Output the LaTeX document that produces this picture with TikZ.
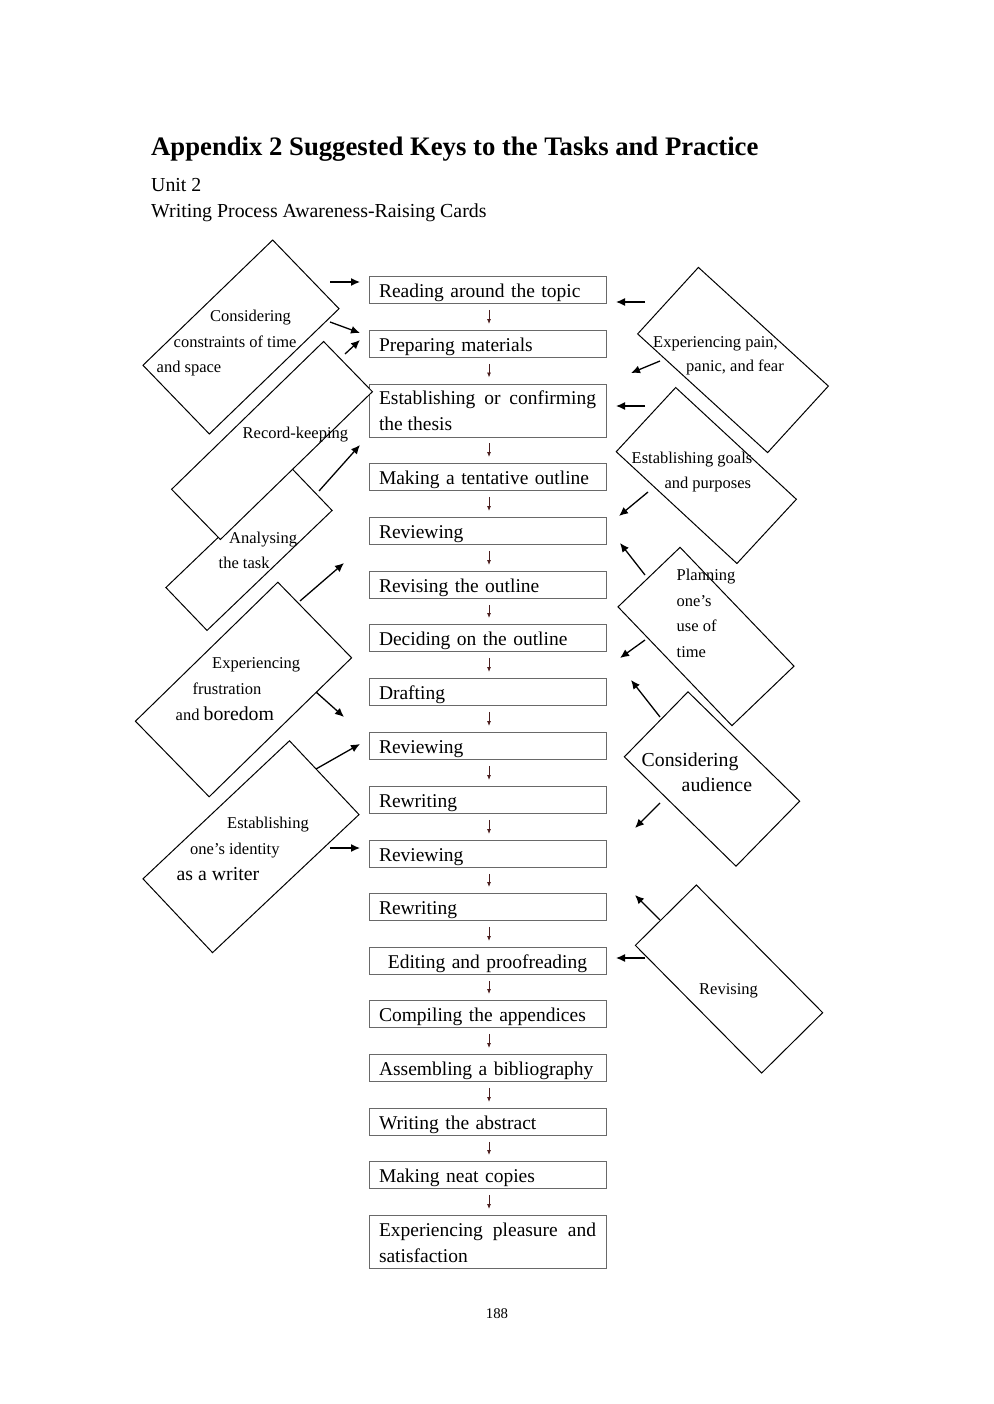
\documentclass[tikz,border=0pt]{standalone}
\usepackage{fontspec}
\setmainfont{Liberation Serif}
\usetikzlibrary{arrows.meta}
\definecolor{flowred}{RGB}{75,30,30}
\definecolor{boxgray}{RGB}{105,105,105}
\newcommand{\boxfont}{\fontsize{19.5}{26}\selectfont}
\newcommand{\cardfont}{\fontsize{16.5}{26}\selectfont}
\newcommand{\bigcard}{\fontsize{19.8}{26}\selectfont}

\begin{document}
\begin{tikzpicture}
  [x=1pt,y=-1pt,
   stage/.style={draw=boxgray,line width=0.9pt,anchor=north,text width=217pt,inner xsep=10pt,
     inner ysep=0pt,text height=20.7pt,text depth=6.3pt,align=left,font=\boxfont},
   card/.style={draw,line width=1pt,fill=white,inner sep=0pt},
   cardtext/.style={anchor=base west,inner sep=0pt,font=\cardfont},
   flow/.style={draw=flowred,line width=0.8pt,-{Latex[length=5pt,width=4pt]},shorten <=6pt,shorten >=6pt},
   hint/.style={line width=1.3pt,-{Latex[length=9pt,width=8pt]}}]
  \fill[white] (0,0) rectangle (993,1404);
  \useasboundingbox (0,0) rectangle (993,1404);

  % heading
  \node[anchor=base west,inner sep=0pt,font=\fontsize{26.7}{30}\selectfont\bfseries] (title) at (151,156)
    {Appendix 2 Suggested Keys to the Tasks and Practice};
  \node[anchor=base west,inner sep=0pt,font=\fontsize{19.85}{24}\selectfont] (unit) at (151,191.7) {Unit 2};
  \node[anchor=base west,inner sep=0pt,font=\fontsize{19.85}{24}\selectfont] (cards) at (151,217.3)
    {Writing Process Awareness-Raising Cards};

  % the process column
  \node[stage] (b1) at (487.5,276) {Reading around the topic};
  \node[stage] (b2) at (487.5,330) {Preparing materials};
  \node[stage,align=justify,text depth=32.3pt] (b3) at (487.5,383.5) {Establishing or confirming the thesis};
  \node[stage] (b4) at (487.5,463) {Making a tentative outline};
  \node[stage] (b5) at (487.5,517) {Reviewing};
  \node[stage] (b6) at (487.5,571) {Revising the outline};
  \node[stage] (b7) at (487.5,624) {Deciding on the outline};
  \node[stage] (b8) at (487.5,678) {Drafting};
  \node[stage] (b9) at (487.5,732) {Reviewing};
  \node[stage] (b10) at (487.5,786) {Rewriting};
  \node[stage] (b11) at (487.5,840) {Reviewing};
  \node[stage] (b12) at (487.5,893) {Rewriting};
  \node[stage,align=center] (b13) at (487.5,947) {Editing and proofreading};
  \node[stage] (b14) at (487.5,1000) {Compiling the appendices};
  \node[stage] (b15) at (487.5,1054) {Assembling a bibliography};
  \node[stage] (b16) at (487.5,1108) {Writing the abstract};
  \node[stage] (b17) at (487.5,1161) {Making neat copies};
  \node[stage,align=justify,text depth=32.3pt] (b18) at (487.5,1215) {Experiencing pleasure and satisfaction};

  \foreach \a/\b in {b1/b2,b2/b3,b3/b4,b4/b5,b5/b6,b6/b7,b7/b8,b8/b9,b9/b10,
                     b10/b11,b11/b12,b12/b13,b13/b14,b14/b15,b15/b16,b16/b17,b17/b18}
    \draw[flow] ([xshift=1.5pt]\a.south) -- ([xshift=1.5pt]\b.north);

  % cards, left
  \node[card,minimum width=180.3pt,minimum height=95.5pt,rotate=44] (d1) at (241,337) {};
  \node[card,minimum width=173.3pt,minimum height=59.4pt,rotate=43.8] (d3) at (249,549) {};
  \node[card,minimum width=212pt,minimum height=70pt,rotate=44.2] (d2) at (272,440.5) {};
  \node[card,minimum width=199pt,minimum height=105.6pt,rotate=44.3] (d4) at (243.5,689.5) {};
  \node[card,minimum width=201.3pt,minimum height=101.4pt,rotate=43.3] (d5) at (251,846.7) {};
  % cards, right
  \node[card,minimum width=176pt,minimum height=90.1pt,rotate=-42.4] (d6) at (733,360) {};
  \node[card,minimum width=164.5pt,minimum height=87.5pt,rotate=-42.8] (d7) at (706.3,475.5) {};
  \node[card,minimum width=164.6pt,minimum height=86pt,rotate=-46.2] (d8) at (706,636.5) {};
  \node[card,minimum width=156.3pt,minimum height=91pt,rotate=-44.4] (d9) at (712,779) {};
  \node[card,minimum width=179.6pt,minimum height=85.8pt,rotate=-45.3] (d10) at (729,979) {};

  \foreach \x/\y/\t [count=\i] in {210/321.5/Considering, 173.5/347/constraints of time, 156.5/372.5/and space,
      242.5/438/Record-keeping, 229/543.5/Analysing, 218.5/568.5/the task,
      212/668.3/Experiencing, 192.5/694/frustration, 175.5/720/{and {\bigcard boredom}},
      227/828.3/Establishing, 190/854/one’s identity, 176.5/880/{\bigcard as a writer},
      653/347.3/{Experiencing pain,}, 686/371.7/{panic, and fear},
      631.5/463.3/Establishing goals, 664.3/488.3/and purposes,
      676.5/580/Planning, 676.5/606/one’s, 676.5/631.7/use of, 676.5/657.7/time,
      641.5/766/{\bigcard Considering}, 681.5/791.7/{\bigcard audience}, 699/994/Revising}
    \node[cardtext] (txt\i) at (\x,\y) {\t};

  % arrows from the cards
  \coordinate (s1) at (330,282);   \coordinate (e1) at (360,282);
  \coordinate (s2) at (330,322);   \coordinate (e2) at (360,333);
  \coordinate (s3) at (345,354);   \coordinate (e3) at (360,340);
  \coordinate (s4) at (319,491);   \coordinate (e4) at (360,445);
  \coordinate (s5) at (300,601);   \coordinate (e5) at (344,563);
  \coordinate (s6) at (316,692);   \coordinate (e6) at (344,717);
  \coordinate (s7) at (316,769);   \coordinate (e7) at (360,744);
  \coordinate (s8) at (330,848);   \coordinate (e8) at (360,848);
  \coordinate (s9) at (645,302);   \coordinate (e9) at (616,302);
  \coordinate (s10) at (660,361);  \coordinate (e10) at (631,373);
  \coordinate (s11) at (645,406);  \coordinate (e11) at (616,406);
  \coordinate (s12) at (648,492);  \coordinate (e12) at (619,516);
  \coordinate (s13) at (645,575);  \coordinate (e13) at (620,543);
  \coordinate (s14) at (645,640);  \coordinate (e14) at (620,658);
  \coordinate (s15) at (660,717);  \coordinate (e15) at (631,680);
  \coordinate (s16) at (660,803);  \coordinate (e16) at (635,828);
  \coordinate (s17) at (660,920);  \coordinate (e17) at (635,895);
  \coordinate (s18) at (645,958);  \coordinate (e18) at (616,958);
  \foreach \n in {1,...,18}
    \draw[hint] (s\n) -- (e\n);

  \node[anchor=base,inner sep=0pt,font=\fontsize{14.8}{18}\selectfont] (page) at (497,1318) {188};
\end{tikzpicture}
\end{document}
